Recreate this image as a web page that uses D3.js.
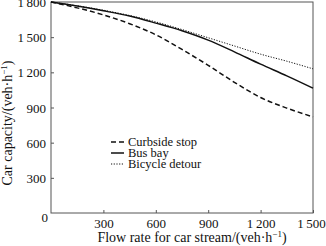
<!DOCTYPE html>
<html>
<head>
<meta charset="utf-8">
<script src="https://cdnjs.cloudflare.com/ajax/libs/d3/7.8.5/d3.min.js"></script>
<style>
body { margin: 0; background: #fff; }
text { font-family: "Liberation Serif", "DejaVu Serif", serif; fill: #111; }
</style>
</head>
<body>
<script>
var flow = [0, 150, 300, 450, 600, 750, 900, 1050, 1200, 1350, 1500];
var curbside = [1800, 1750, 1690, 1615, 1520, 1395, 1260, 1115, 985, 895, 820];
var busBay = [1800, 1765, 1725, 1680, 1620, 1555, 1475, 1375, 1270, 1170, 1065];
var bicycle = [1800, 1768, 1730, 1685, 1630, 1565, 1495, 1425, 1355, 1295, 1230];
var xTicks = [300, 600, 900, 1200, 1500];
var yTicks = [300, 600, 900, 1200, 1500, 1800];
var seriesNames = ["Curbside stop", "Bus bay", "Bicycle detour"];

var w = 326, h = 246;
var plotL = 51, plotR = 313, plotT = 2, plotB = 213;

var svg = d3.select("body").append("svg").attr("width", w).attr("height", h);

var x = d3.scaleLinear().domain([0, 1500]).range([plotL, plotR]);
var y = d3.scaleLinear().domain([0, 1800]).range([plotB, plotT]);

// thin-space thousands, like "1 500"
function fmt(v) {
  return v >= 1000 ? Math.floor(v / 1000) + "\u2009" + d3.format("03")(v % 1000) : String(v);
}

// frame
svg.append("rect")
  .attr("x", plotL).attr("y", plotT)
  .attr("width", plotR - plotL).attr("height", plotB - plotT)
  .attr("fill", "none").attr("stroke", "#555").attr("stroke-width", 1);

var xAxis = svg.append("g").attr("transform", `translate(0,${plotB})`)
  .call(d3.axisBottom(x).tickValues(xTicks).tickSizeInner(-3).tickSizeOuter(0).tickFormat(fmt));
xAxis.select(".domain").remove();
xAxis.selectAll("line").attr("stroke", "#555");
xAxis.selectAll("text").attr("font-size", 13).attr("dy", "0").attr("y", 15)
  .attr("x", function(d) { return d === 1500 ? -2 : 0; });

var yAxis = svg.append("g").attr("transform", `translate(${plotL},0)`)
  .call(d3.axisLeft(y).tickValues(yTicks).tickSizeInner(-3).tickSizeOuter(0).tickFormat(fmt));
yAxis.select(".domain").remove();
yAxis.selectAll("line").attr("stroke", "#555");
yAxis.selectAll("text").attr("font-size", 13).attr("x", -5).attr("dy", "0.35em");

svg.append("text").attr("x", plotL - 3).attr("y", plotB + 9)
  .attr("text-anchor", "end").attr("font-size", 13).text("0");

// axis titles
var xt = svg.append("text").attr("x", (plotL + plotR) / 2 + 10).attr("y", 242)
  .attr("text-anchor", "middle").attr("font-size", 14);
xt.append("tspan").text("Flow rate for car stream/(veh\u00b7h");
xt.append("tspan").attr("font-size", 9).attr("dy", -5).text("\u22121");
xt.append("tspan").attr("dy", 5).text(")");

var yt = svg.append("text").attr("transform", "translate(12,123) rotate(-90)")
  .attr("text-anchor", "middle").attr("font-size", 14);
yt.append("tspan").text("Car capacity/(veh\u00b7h");
yt.append("tspan").attr("font-size", 9).attr("dy", -5).text("\u22121");
yt.append("tspan").attr("dy", 5).text(")");

var series = [curbside, busBay, bicycle];
var dashes = ["5,3", null, "1.2,1.5"];
var widths = [1.5, 1.5, 1];

var line = d3.line()
  .x(function(d, i) { return x(flow[i]); })
  .y(function(d) { return y(d); })
  .curve(d3.curveMonotoneX);

series.forEach(function(s, k) {
  svg.append("path").datum(s)
    .attr("d", line)
    .attr("fill", "none")
    .attr("stroke", "#111")
    .attr("stroke-width", widths[k])
    .attr("stroke-dasharray", dashes[k]);
});

// legend
var legend = svg.append("g").attr("transform", "translate(111,142)");
seriesNames.forEach(function(name, k) {
  var g = legend.append("g").attr("transform", `translate(0,${k * 11})`);
  g.append("line").attr("x1", 0).attr("x2", 13).attr("y1", 0).attr("y2", 0)
    .attr("stroke", "#111").attr("stroke-width", widths[k])
    .attr("stroke-dasharray", dashes[k]);
  g.append("text").attr("x", 17).attr("y", 0).attr("dy", "0.35em")
    .attr("font-size", 12.5).text(name);
});
</script>
</body>
</html>
